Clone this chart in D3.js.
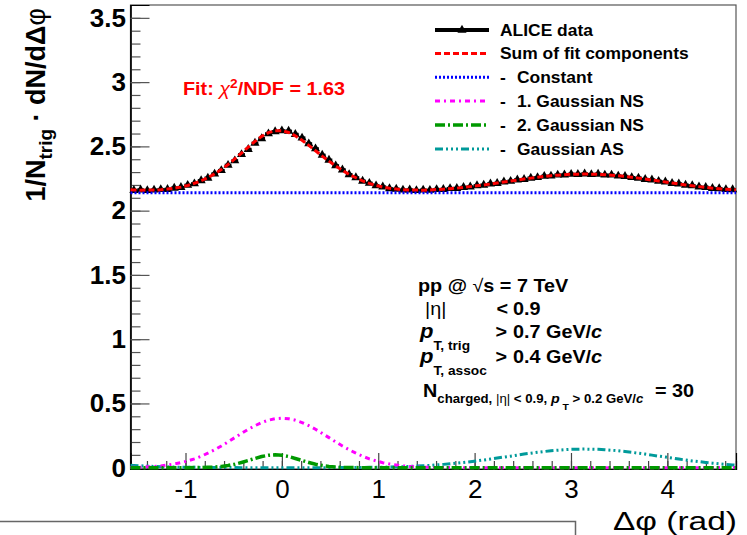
<!DOCTYPE html>
<html><head><meta charset="utf-8">
<script src="https://cdn.jsdelivr.net/npm/d3@7"></script>
<style>
body{margin:0;background:#fff;}
svg{display:block;}
text{font-family:"Liberation Sans",Arial,Helvetica,sans-serif;}
</style>
</head><body>
<svg id="c" width="747" height="535"></svg>
<script>
// ---------------- data ----------------
const binCount = 90; // Δφ bins over [-π/2, 3π/2]
const dataValues = [
 2.158,2.162,2.157,2.161,2.165,2.166,2.176,2.181,2.198,2.210,
 2.234,2.254,2.286,2.313,2.354,2.389,2.437,2.477,2.526,2.561,
 2.599,2.615,2.622,2.619,2.594,2.566,2.521,2.482,2.432,2.394,
 2.350,2.318,2.281,2.257,2.230,2.214,2.194,2.185,2.172,2.168,
 2.161,2.162,2.157,2.161,2.159,2.165,2.166,2.173,2.174,2.182,
 2.185,2.195,2.199,2.209,2.213,2.224,2.229,2.240,2.244,2.254,
 2.258,2.268,2.270,2.278,2.279,2.284,2.283,2.287,2.282,2.285,
 2.278,2.278,2.270,2.267,2.258,2.254,2.244,2.240,2.229,2.224,
 2.213,2.209,2.199,2.195,2.185,2.182,2.174,2.172,2.165,2.164
];
// fit components, sampled at: left edge, the 90 bin centres, right edge
const fitConstant = 2.14;
const fitNS1 = [
 0.002,
 0.003,0.004,0.007,0.010,0.014,0.021,0.029,0.039,0.053,0.069,
 0.089,0.113,0.140,0.169,0.201,0.234,0.267,0.299,0.327,0.351,
 0.370,0.381,0.385,0.381,0.370,0.351,0.327,0.299,0.267,0.234,
 0.201,0.169,0.140,0.113,0.089,0.069,0.053,0.039,0.029,0.021,
 0.014,0.010,0.007,0.004,0.003,0.002,0.001,0.001,0,0,
 0,0,0,0,0,0,0,0,0,0,
 0,0,0,0,0,0,0,0,0,0,
 0,0,0,0,0,0,0,0,0,0,
 0,0,0,0,0,0,0,0.001,0.001,0.002,
 0.002
];
const fitNS2 = [
 0,
 0,0,0,0,0,0,0,0,0,0.001,
 0.001,0.003,0.005,0.010,0.017,0.027,0.041,0.056,0.072,0.087,
 0.097,0.100,0.097,0.087,0.072,0.056,0.041,0.027,0.017,0.010,
 0.005,0.003,0.001,0.001,0,0,0,0,0,0,
 0,0,0,0,0,0,0,0,0,0,
 0,0,0,0,0,0,0,0,0,0,
 0,0,0,0,0,0,0,0,0,0,
 0,0,0,0,0,0,0,0,0,0,
 0,0,0,0,0,0,0,0,0,0,
 0
];
const fitAS = [
 0.020,
 0.018,0.015,0.013,0.010,0.008,0.007,0.005,0.004,0.003,0.003,
 0.002,0.002,0.001,0.001,0.001,0.001,0,0,0,0,
 0,0,0,0,0,0,0,0,0,0.001,
 0.001,0.001,0.001,0.002,0.002,0.003,0.003,0.004,0.005,0.007,
 0.008,0.010,0.013,0.015,0.018,0.022,0.026,0.030,0.035,0.041,
 0.047,0.053,0.060,0.067,0.075,0.083,0.090,0.098,0.106,0.113,
 0.120,0.126,0.132,0.136,0.140,0.143,0.144,0.145,0.144,0.143,
 0.140,0.136,0.132,0.126,0.120,0.113,0.106,0.098,0.090,0.083,
 0.075,0.067,0.060,0.053,0.047,0.041,0.035,0.030,0.026,0.022,
 0.020
];
const xTicks = [-1,0,1,2,3,4];
const yTicks = [0,0.5,1,1.5,2,2.5,3,3.5];
const legendLabels = ["ALICE data","Sum of fit components","Constant","1. Gaussian NS","2. Gaussian NS","Gaussian AS"];

// ---------------- layout ----------------
const svg = d3.select("#c");
const X0 = 130.5, X1 = 736, Y0 = 469, Y1 = 5;
const x = d3.scaleLinear([-Math.PI/2, 3*Math.PI/2], [X0, X1]);
const y = d3.scaleLinear([-0.01, 3.6], [Y0, Y1]);
const binW = 2*Math.PI/binCount;
const binCenters = d3.range(binCount).map(i => -Math.PI/2 + (i+0.5)*binW);
const fitPhi = [-Math.PI/2, ...binCenters, 3*Math.PI/2];
const fitSum = fitPhi.map((p,i) => fitConstant + fitNS1[i] + fitNS2[i] + fitAS[i]);

// helper: text horizontally widened (ROOT-style wide Helvetica)
function stext(parent, px, py, sx){
  return parent.append("g").attr("transform",`translate(${px},${py}) scale(${sx},1)`)
    .append("text").attr("x",0).attr("y",0);
}

// frame
svg.append("rect").attr("x",X0).attr("y",Y1).attr("width",X1-X0).attr("height",Y0-Y1)
  .attr("fill","none").attr("stroke","#555").attr("stroke-width",1.2);

// y axis
const yMinor = svg.append("g").attr("transform",`translate(${X0},0)`)
  .call(d3.axisLeft(y).tickValues(d3.range(0,36).map(v=>v/10)).tickSize(-10).tickFormat(""));
const yMajor = svg.append("g").attr("transform",`translate(${X0},0)`)
  .call(d3.axisLeft(y).tickValues(yTicks).tickSize(-19).tickPadding(4.5).tickFormat(d3.format("")));
[yMinor,yMajor].forEach(g=>{g.select(".domain").attr("stroke","#000").attr("stroke-width",1.2);
  g.selectAll(".tick line").attr("stroke","#555").attr("stroke-width",1.2);});
yMajor.selectAll(".tick text").attr("font-size",26).attr("font-weight","bold").attr("fill","#000")
  .attr("font-family","Liberation Sans, Arial, sans-serif");

// x axis
const xMinor = svg.append("g").attr("transform",`translate(0,${Y0})`)
  .call(d3.axisBottom(x).tickValues(d3.range(-7,24).map(v=>v/5)).tickSize(-8).tickFormat(""));
const xMajor = svg.append("g").attr("transform",`translate(0,${Y0})`)
  .call(d3.axisBottom(x).tickValues(xTicks).tickSize(-16).tickPadding(11).tickFormat(d=>String(d)));
[xMinor,xMajor].forEach(g=>{g.select(".domain").attr("stroke","#000").attr("stroke-width",1.2);
  g.selectAll(".tick line").attr("stroke","#444").attr("stroke-width",1.2);});
xMajor.selectAll(".tick text").attr("font-size",26).attr("fill","#000")
  .attr("font-family","Liberation Sans, Arial, sans-serif");

// axis titles
svg.append("text").attr("x",737).attr("y",530).attr("text-anchor","end")
  .attr("font-size",26).attr("textLength",124).attr("lengthAdjust","spacingAndGlyphs").text("Δφ (rad)");
const yt = svg.append("text").attr("transform","translate(45,8) rotate(-90)")
  .attr("text-anchor","end").attr("font-size",27).attr("font-weight","bold");
yt.append("tspan").text("1/N");
yt.append("tspan").attr("font-size",19).attr("dy",7).text("trig");
yt.append("tspan").attr("dy",-7).text(" · dN/dΔ");
yt.append("tspan").attr("font-weight","normal").text("φ");

// ---------------- data marks ----------------
const dataG = svg.append("g");
dataG.selectAll("line.err").data(dataValues).join("line")
  .attr("x1",(d,i)=>x(binCenters[i]-binW/2)).attr("x2",(d,i)=>x(binCenters[i]+binW/2))
  .attr("y1",d=>y(d)).attr("y2",d=>y(d)).attr("stroke","#000").attr("stroke-width",3);
const tri = d3.symbol(d3.symbolTriangle, 36);
dataG.selectAll("path.m").data(dataValues).join("path")
  .attr("transform",(d,i)=>`translate(${x(binCenters[i])},${y(d)})`)
  .attr("d",tri).attr("fill","#000");

// ---------------- fit curves ----------------
const line = d3.line().x((d,i)=>x(fitPhi[i])).y(d=>y(d));
const styles = {
  sum:{c:"#ff0000",w:3,dash:"6,3"},
  con:{c:"#0000ff",w:3,dash:"2,2"},
  ns1:{c:"#ff00ff",w:3,dash:"5,4,2,4"},
  ns2:{c:"#009900",w:3.5,dash:"10,3,2,3"},
  as:{c:"#009a9a",w:3,dash:"8,3,2,3,2,3,2,3"}
};
function drawCurve(vals, s){
  svg.append("path").attr("d",line(vals)).attr("fill","none").attr("stroke",s.c)
    .attr("stroke-width",s.w).attr("stroke-dasharray",s.dash);
}
drawCurve(fitAS, styles.as);
drawCurve(fitNS1, styles.ns1);
drawCurve(fitNS2, styles.ns2);
drawCurve(fitPhi.map(()=>fitConstant), styles.con);
drawCurve(fitSum, styles.sum);

// ---------------- legend ----------------
const legRows = [30,53.5,77.3,101,125,149];
const legStyles = [null, styles.sum, styles.con, styles.ns1, styles.ns2, styles.as];
const lg = svg.append("g").attr("font-weight","bold").attr("font-size",16);
const LSX = 1.09;
legendLabels.forEach((lab,i)=>{
  const yy = legRows[i];
  if(i===0){
    lg.append("line").attr("x1",435).attr("x2",489).attr("y1",yy).attr("y2",yy)
      .attr("stroke","#000").attr("stroke-width",4);
    lg.append("path").attr("transform",`translate(462,${yy})`).attr("d",tri).attr("fill","#000");
  } else {
    const s = legStyles[i];
    lg.append("line").attr("x1",435).attr("x2",489).attr("y1",yy).attr("y2",yy)
      .attr("stroke",s.c).attr("stroke-width",s.w).attr("stroke-dasharray",s.dash);
  }
  if(i<2){
    stext(lg,500,yy+5.6,LSX).text(lab);
  } else {
    stext(lg,500,yy+5.6,LSX).text("-");
    stext(lg,517,yy+5.6,LSX).text(lab);
  }
});

// ---------------- annotations ----------------
const SX = 1.1;
const fit = stext(svg,183,95,SX).attr("fill","#ff0000").attr("font-size",18).attr("font-weight","bold");
fit.append("tspan").text("Fit: ");
fit.append("tspan").attr("font-weight","normal").attr("font-style","italic").text("χ");
fit.append("tspan").attr("font-size",12.5).attr("dy",-7.5).text("2");
fit.append("tspan").attr("dy",7.5).text("/NDF = 1.63");

const info = svg.append("g").attr("font-weight","bold").attr("font-size",18);
const l1 = stext(info,418,292,SX);
l1.append("tspan").text("pp @ ");
l1.append("tspan").attr("font-weight","normal").text("√");
l1.append("tspan").text("s = 7 TeV");
stext(info,425,315,SX).attr("font-weight","normal").text("|η|");
stext(info,496.5,315,SX).text("<");
stext(info,513,315,SX).text("0.9");
[["T, trig",338,"0.7"],["T, assoc",363,"0.4"]].forEach(([sub,yy,val])=>{
  const t = stext(info,420,yy,SX);
  t.append("tspan").attr("font-style","italic").attr("font-size",20).text("p");
  t.append("tspan").attr("font-size",12.5).attr("dy",12).text(sub);
  stext(info,495.5,yy,SX).text(">");
  const t2 = stext(info,513,yy,SX);
  t2.append("tspan").text(`${val} GeV/`);
  t2.append("tspan").attr("font-style","italic").text("c");
});
const l5 = stext(info,423,397,SX);
l5.append("tspan").text("N");
l5.append("tspan").attr("font-size",12).attr("dy",6).text("charged, ");
l5.append("tspan").attr("font-size",12).attr("font-weight","normal").text("|η|");
l5.append("tspan").attr("font-size",12).text(" < 0.9, ");
l5.append("tspan").attr("font-size",13).attr("font-style","italic").text("p");
l5.append("tspan").attr("font-size",9.5).attr("dy",7).text(" T");
l5.append("tspan").attr("font-size",12).attr("dy",-7).text(" > 0.2 GeV/");
l5.append("tspan").attr("font-size",12).attr("font-style","italic").text("c");
stext(info,655,397,SX).text("= 30");

// bottom-left box edge
svg.append("path").attr("d",`M0,521.5H575.5V535`).attr("fill","none").attr("stroke","#666").attr("stroke-width",1.5);
</script>
</body></html>
